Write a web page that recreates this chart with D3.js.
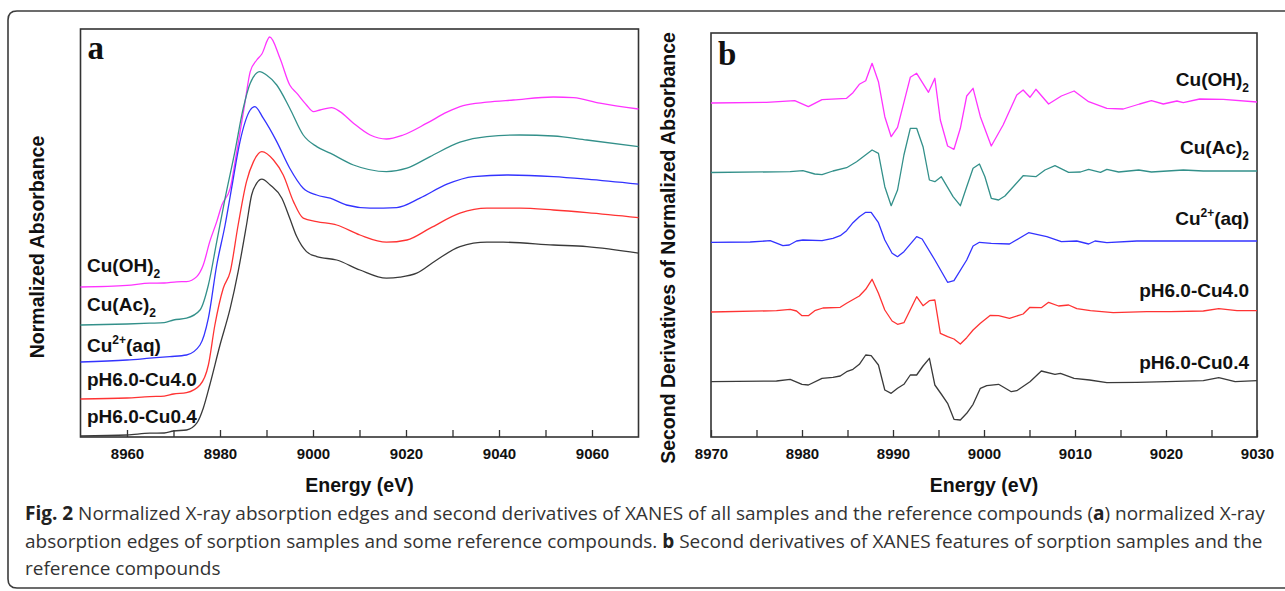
<!DOCTYPE html>
<html>
<head>
<meta charset="utf-8">
<script src="https://cdn.jsdelivr.net/npm/d3@7"></script>
<style>
  html, body { margin: 0; padding: 0; background: #fff; }
  svg { display: block; }
  .lbl { font-family: Arial, 'Liberation Sans', sans-serif; font-weight: bold; fill: #111; }
  .axis text { font-family: Arial, 'Liberation Sans', sans-serif; font-weight: bold; font-size: 15px; fill: #111; }
  .axis line { stroke: #333; stroke-width: 1.3; }
  .axis path { display: none; }
  .cap { font-family: 'Open Sans', sans-serif; font-size: 19px; fill: #333; }
</style>
</head>
<body>
<script>
// ---- data: panel a, normalized absorbance [energy eV, value] ----
var absCuOH = [[8950,0],[8960,0.008],[8964.9,0.019],[8968,0.02],[8970.7,0.026],[8972.8,0.027],[8975,0.052],[8976.4,0.11],[8977.8,0.227],[8979.3,0.327],[8980.4,0.41],[8982.2,0.494],[8983.6,0.677],[8985.4,0.927],[8986.5,1.077],[8987.9,1.135],[8989,1.165],[8990.7,1.25],[8992.9,1.144],[8995,1.01],[8996.5,0.969],[8998.6,0.91],[9000.1,0.877],[9001.5,0.885],[9004,0.897],[9005.8,0.877],[9008.7,0.819],[9012.3,0.76],[9015.8,0.74],[9019.4,0.76],[9024.5,0.819],[9028.8,0.874],[9032.3,0.907],[9037.4,0.924],[9043.1,0.935],[9051.7,0.95],[9056,0.947],[9061.7,0.919],[9070,0.89]];
var absCuAc = [[8950,0],[8960,0.005],[8964.9,0.009],[8968,0.012],[8970,0.025],[8972.8,0.034],[8975.7,0.075],[8977.5,0.2],[8979.3,0.417],[8981.1,0.634],[8983.2,0.867],[8985,1.084],[8986.5,1.209],[8988.6,1.267],[8990,1.25],[8992.2,1.2],[8995,1.084],[8997.9,0.95],[9000.8,0.892],[9003.7,0.859],[9008.7,0.8],[9015.8,0.767],[9020.2,0.784],[9025.2,0.842],[9031.6,0.914],[9037.4,0.942],[9044.5,0.95],[9051.7,0.945],[9058.9,0.925],[9070,0.892]];
var absCuAq = [[8950,0],[8960,0.01],[8964.9,0.019],[8969.2,0.027],[8972.8,0.035],[8975.7,0.085],[8977.5,0.219],[8979.3,0.485],[8981.1,0.685],[8982.5,0.869],[8984.3,1.102],[8986.5,1.26],[8987.5,1.277],[8989.3,1.219],[8992.2,1.102],[8995,0.969],[8997.9,0.869],[9000.8,0.835],[9003.7,0.819],[9007.2,0.785],[9012.3,0.769],[9018,0.772],[9023,0.819],[9028.8,0.889],[9034.5,0.927],[9041.7,0.935],[9051.7,0.927],[9058.9,0.914],[9070,0.889]];
var absCu40 = [[8950,0],[8960,0.005],[8964.9,0.012],[8968,0.014],[8970,0.025],[8972.8,0.032],[8975.7,0.07],[8977.5,0.17],[8978.9,0.37],[8980.7,0.554],[8982.2,0.637],[8983.9,0.87],[8985.7,1.087],[8987.2,1.187],[8989,1.237],[8991.5,1.195],[8993.6,1.12],[8995.8,0.987],[8997.9,0.904],[9000.8,0.887],[9005.1,0.87],[9010.1,0.82],[9015.8,0.784],[9020.2,0.795],[9025.2,0.854],[9031.6,0.929],[9037.4,0.954],[9044.5,0.954],[9051.7,0.945],[9058.9,0.932],[9070,0.907]];
var absCu04 = [[8950,0],[8960,0.005],[8964.9,0.014],[8968,0.015],[8970,0.025],[8972.8,0.03],[8975,0.064],[8976.4,0.139],[8977.8,0.255],[8980,0.455],[8982.2,0.639],[8983.9,0.822],[8985.7,1.055],[8986.8,1.205],[8987.9,1.264],[8989,1.284],[8990.8,1.255],[8993.3,1.189],[8995,1.089],[8996.5,0.997],[8998.6,0.922],[9000.8,0.897],[9005.1,0.88],[9010.1,0.83],[9015.8,0.789],[9018.7,0.794],[9022.3,0.814],[9026.6,0.88],[9031.6,0.947],[9037.4,0.969],[9040.9,0.969],[9051.7,0.955],[9058.9,0.947],[9070,0.914]];

// ---- data: panel b, second derivative (a.u.) [energy eV, value] ----
var derCuOH = [[8970,0],[8976.1,0.007],[8979.2,0.023],[8980.7,-0.037],[8982.2,0.033],[8984.9,0.047],[8985.6,0.103],[8986.3,0.187],[8987,0.223],[8987.7,0.397],[8988.4,0.213],[8989.1,-0.137],[8989.8,-0.337],[8990.5,-0.243],[8991.9,0.257],[8992.6,0.297],[8993.9,0.107],[8994.6,0.247],[8995.2,-0.17],[8996,-0.43],[8996.7,-0.463],[8997.4,-0.253],[8998.1,0.07],[8998.8,0.147],[8999.6,-0.137],[9000.8,-0.43],[9002.1,-0.22],[9003.6,0.08],[9004.3,0.13],[9005.05,0.057],[9005.7,0.137],[9007.1,-0.01],[9008.5,0.07],[9009.9,0.12],[9011.5,0.013],[9013.5,-0.053],[9015.3,-0.06],[9017.1,-0.01],[9018.4,0.023],[9019.7,-0.01],[9021.2,0.02],[9021.9,0.003],[9023.7,0.04],[9026.3,0.037],[9030,0.01]];
var derCuAc = [[8970,0],[8978.7,0.008],[8980.1,0.018],[8981.4,-0.015],[8982.2,-0.022],[8983.4,0.015],[8984.9,0.048],[8986,0.108],[8987.7,0.225],[8988.4,0.192],[8989.1,-0.142],[8989.8,-0.332],[8990.5,-0.175],[8991.2,0.175],[8991.9,0.442],[8992.6,0.442],[8993.3,0.258],[8994,-0.075],[8994.6,-0.092],[8995.3,-0.042],[8996.6,-0.242],[8997.4,-0.332],[8998.1,-0.142],[8998.8,0.042],[8999.5,0.085],[9000.1,-0.042],[9000.8,-0.258],[9001.6,-0.275],[9002.3,-0.235],[9004.3,-0.032],[9005.7,-0.042],[9006.7,0.025],[9007.8,0.068],[9009.3,0.002],[9010.6,0.005],[9011.5,0.032],[9012.8,0.002],[9013.5,0.032],[9014.8,0.005],[9017,0.025],[9018.4,0.005],[9021.9,0.025],[9024.1,0.015],[9030,0.015]];
var derCuAq = [[8970,-0.003],[8974.3,0],[8976.5,0.013],[8977.9,-0.037],[8978.6,-0.03],[8979.4,0.01],[8980.1,0.02],[8982.2,0.013],[8983.4,0.037],[8984.2,0.063],[8984.9,0.113],[8985.6,0.193],[8986.3,0.253],[8987,0.297],[8987.6,0.297],[8988.4,0.193],[8989.1,0.02],[8989.9,-0.113],[8990.5,-0.147],[8991.2,-0.097],[8992.6,0.053],[8993.2,0.03],[8994.6,-0.18],[8996,-0.403],[8996.7,-0.387],[8998.1,-0.18],[8998.8,-0.04],[8999.5,-0.003],[9000.8,-0.013],[9002.8,-0.02],[9004.9,0.093],[9006.9,0.053],[9008.5,0.003],[9010.2,0.01],[9011.5,-0.02],[9012.2,0.01],[9013.5,-0.007],[9016.8,0.01],[9030,0.01]];
var derCu40 = [[8970,-0.005],[8977.2,0.008],[8978.7,0.022],[8979.4,0.005],[8980,-0.042],[8980.7,-0.042],[8981.4,0.008],[8982.3,0.035],[8984.2,0.042],[8984.9,0.082],[8986.3,0.155],[8987,0.222],[8987.7,0.322],[8988.4,0.182],[8989.1,0.015],[8989.9,-0.095],[8990.5,-0.128],[8991.2,-0.112],[8992.6,0.148],[8993.3,0.058],[8994,0.108],[8994.6,0.115],[8995.2,-0.218],[8996,-0.252],[8996.7,-0.275],[8997.4,-0.325],[8998.1,-0.262],[8998.8,-0.185],[8999.6,-0.118],[9000.7,-0.038],[9001.6,-0.042],[9002.8,-0.068],[9004.3,-0.025],[9005.05,0.042],[9006.3,0.038],[9007.1,0.092],[9008.2,0.055],[9009.3,0.065],[9010.2,0.028],[9011.7,0.008],[9014.2,-0.012],[9017.9,-0.002],[9020.5,-0.002],[9024.1,0.005],[9025.8,0.028],[9027.8,0.008],[9030,0.008]];
var derCu04 = [[8970,-0.007],[8977.2,0],[8978.7,0.017],[8980,-0.033],[8980.7,-0.04],[8982.2,0.027],[8983.4,0.037],[8984.2,0.05],[8984.9,0.093],[8985.6,0.117],[8986.3,0.167],[8987,0.26],[8987.6,0.253],[8988.4,0.16],[8989.1,-0.09],[8989.8,-0.123],[8990.5,-0.073],[8991.2,-0.033],[8991.9,0.06],[8992.6,0.06],[8993.3,0.15],[8994,0.227],[8994.6,-0.04],[8995.3,-0.13],[8996,-0.223],[8996.7,-0.383],[8997.4,-0.39],[8998.1,-0.323],[8998.8,-0.233],[8999.6,-0.073],[9000.3,-0.047],[9001.6,-0.033],[9003,-0.107],[9003.6,-0.097],[9005.05,-0.007],[9006.3,0.1],[9007.8,0.067],[9008.4,0.077],[9009.9,0.027],[9011.6,0.01],[9013.5,-0.017],[9016.8,-0.013],[9020.1,-0.007],[9024.1,0.003],[9025.8,0.033],[9027.6,-0.007],[9030,0.003]];

// series order top -> bottom
var seriesNames = ['Cu(OH)_2', 'Cu(Ac)_2', 'Cu^2+(aq)', 'pH6.0-Cu4.0', 'pH6.0-Cu0.4'];
var offsetsA = [0.75, 0.56, 0.375, 0.19, 0.005];
var offsetsB = [3.34, 2.645, 1.95, 1.255, 0.56];
var ticksA = [8960, 8980, 9000, 9020, 9040, 9060];
var minorA = [8970, 8990, 9010, 9030, 9050];
var ticksB = [8970, 8980, 8990, 9000, 9010, 9020, 9030];
var minorB = [8975, 8985, 8995, 9005, 9015, 9025];

var dataA = [absCuOH, absCuAc, absCuAq, absCu40, absCu04];
var dataB = [derCuOH, derCuAc, derCuAq, derCu40, derCu04];
var colors = ['#ff33ff', '#33908a', '#3333ff', '#ff3333', '#3a3a3a'];

var svg = d3.select('body').append('svg')
    .attr('width', 1285)
    .attr('height', 591);

// outer figure border (rounded, open to the right)
svg.append('path')
    .attr('d', 'M1290,11 H17 Q8,11 8,20 V579 Q8,588 17,588 H1290')
    .attr('fill', 'none')
    .attr('stroke', '#3c3c3c')
    .attr('stroke-width', 1.6);

// scales
var xA = d3.scaleLinear().domain([8950, 9070]).range([80.5, 638.5]);
var yA = d3.scaleLinear().domain([0, 2.04]).range([437, 29]);
var xB = d3.scaleLinear().domain([8970, 9030]).range([711, 1257]);
var yB = d3.scaleLinear().domain([0, 4.04]).range([437, 33]);

function addLabel(sel, name) {
    var m = name.match(/^(.*?)([_^])(\d\+?)(.*)$/);
    if (!m) { sel.text(name); return; }
    var shift = m[2] === '_' ? 6 : -8;
    sel.append('tspan').text(m[1]);
    sel.append('tspan').attr('dy', shift).attr('font-size', 12).text(m[3]);
    if (m[4]) sel.append('tspan').attr('dy', -shift).text(m[4]);
}

function drawPanel(x, y, data, offsets, ticks, minor, curve, tag) {
    var r0 = x.range(), d0 = y.range();
    var g = svg.append('g');

    g.append('rect')
        .attr('x', r0[0]).attr('y', d0[1])
        .attr('width', r0[1] - r0[0]).attr('height', d0[0] - d0[1])
        .attr('fill', 'none').attr('stroke', '#333').attr('stroke-width', 1.6);

    // 主刻度 + 次刻度, inward
    g.append('g').attr('class', 'axis')
        .attr('transform', 'translate(0,' + d0[0] + ')')
        .call(d3.axisBottom(x).tickValues(ticks).tickSize(-7).tickPadding(11).tickFormat(d3.format('d')));
    g.append('g').attr('class', 'axis')
        .attr('transform', 'translate(0,' + d0[0] + ')')
        .call(d3.axisBottom(x).tickValues(minor).tickSize(-7).tickFormat(''));

    data.forEach(function (s, i) {
        var line = d3.line()
            .x(function (d) { return x(d[0]); })
            .y(function (d) { return y(d[1] + offsets[i]); })
            .curve(curve);
        g.append('path')
            .datum(s)
            .attr('d', line)
            .attr('fill', 'none')
            .attr('stroke', colors[i])
            .attr('stroke-width', 1.3)
            .attr('stroke-linejoin', 'round');
    });

    g.append('text')
        .attr('x', r0[0] + 7).attr('y', d0[1] + tag.dy)
        .attr('font-family', "'Times New Roman', 'Liberation Serif', serif")
        .attr('font-weight', 'bold').attr('font-size', 33).attr('fill', '#111')
        .text(tag.t);

    g.append('text').attr('class', 'lbl')
        .attr('x', (r0[0] + r0[1]) / 2).attr('y', 492)
        .attr('text-anchor', 'middle').attr('font-size', 19.5)
        .text('Energy (eV)');
    return g;
}

var gA = drawPanel(xA, yA, dataA, offsetsA, ticksA, minorA, d3.curveMonotoneX, {t: 'a', dy: 30});
var gB = drawPanel(xB, yB, dataB, offsetsB, ticksB, minorB, d3.curveLinear, {t: 'b', dy: 32});

// y titles
svg.append('text').attr('class', 'lbl')
    .attr('transform', 'translate(44,247) rotate(-90)')
    .attr('text-anchor', 'middle').attr('font-size', 19.5)
    .text('Normalized Absorbance');
svg.append('text').attr('class', 'lbl')
    .attr('transform', 'translate(675,248) rotate(-90)')
    .attr('text-anchor', 'middle').attr('font-size', 19.5)
    .text('Second Derivatives of Normalized Absorbance');

// series labels
var labelYA = [272, 311, 352, 386, 423];
var labelYB = [86, 154, 225, 297, 369];
seriesNames.forEach(function (n, i) {
    gA.append('text').attr('class', 'lbl')
        .attr('x', 87).attr('y', labelYA[i]).attr('font-size', 19)
        .call(addLabel, n);
    gB.append('text').attr('class', 'lbl')
        .attr('x', 1249).attr('y', labelYB[i]).attr('font-size', 19)
        .attr('text-anchor', 'end')
        .call(addLabel, n);
});

// caption
var capLines = [
    [['Fig. 2', true], [' Normalized X-ray absorption edges and second derivatives of XANES of all samples and the reference compounds (', false], ['a', true], [') normalized X-ray', false]],
    [['absorption edges of sorption samples and some reference compounds. ', false], ['b', true], [' Second derivatives of XANES features of sorption samples and the', false]],
    [['reference compounds', false]]
];
capLines.forEach(function (ln, i) {
    var t = svg.append('text').attr('class', 'cap')
        .attr('x', 25).attr('y', 520 + i * 27.5);
    ln.forEach(function (p) {
        t.append('tspan')
            .attr('font-weight', p[1] ? 'bold' : null)
            .attr('fill', p[1] ? '#222' : null)
            .text(p[0]);
    });
});
</script>
</body>
</html>
